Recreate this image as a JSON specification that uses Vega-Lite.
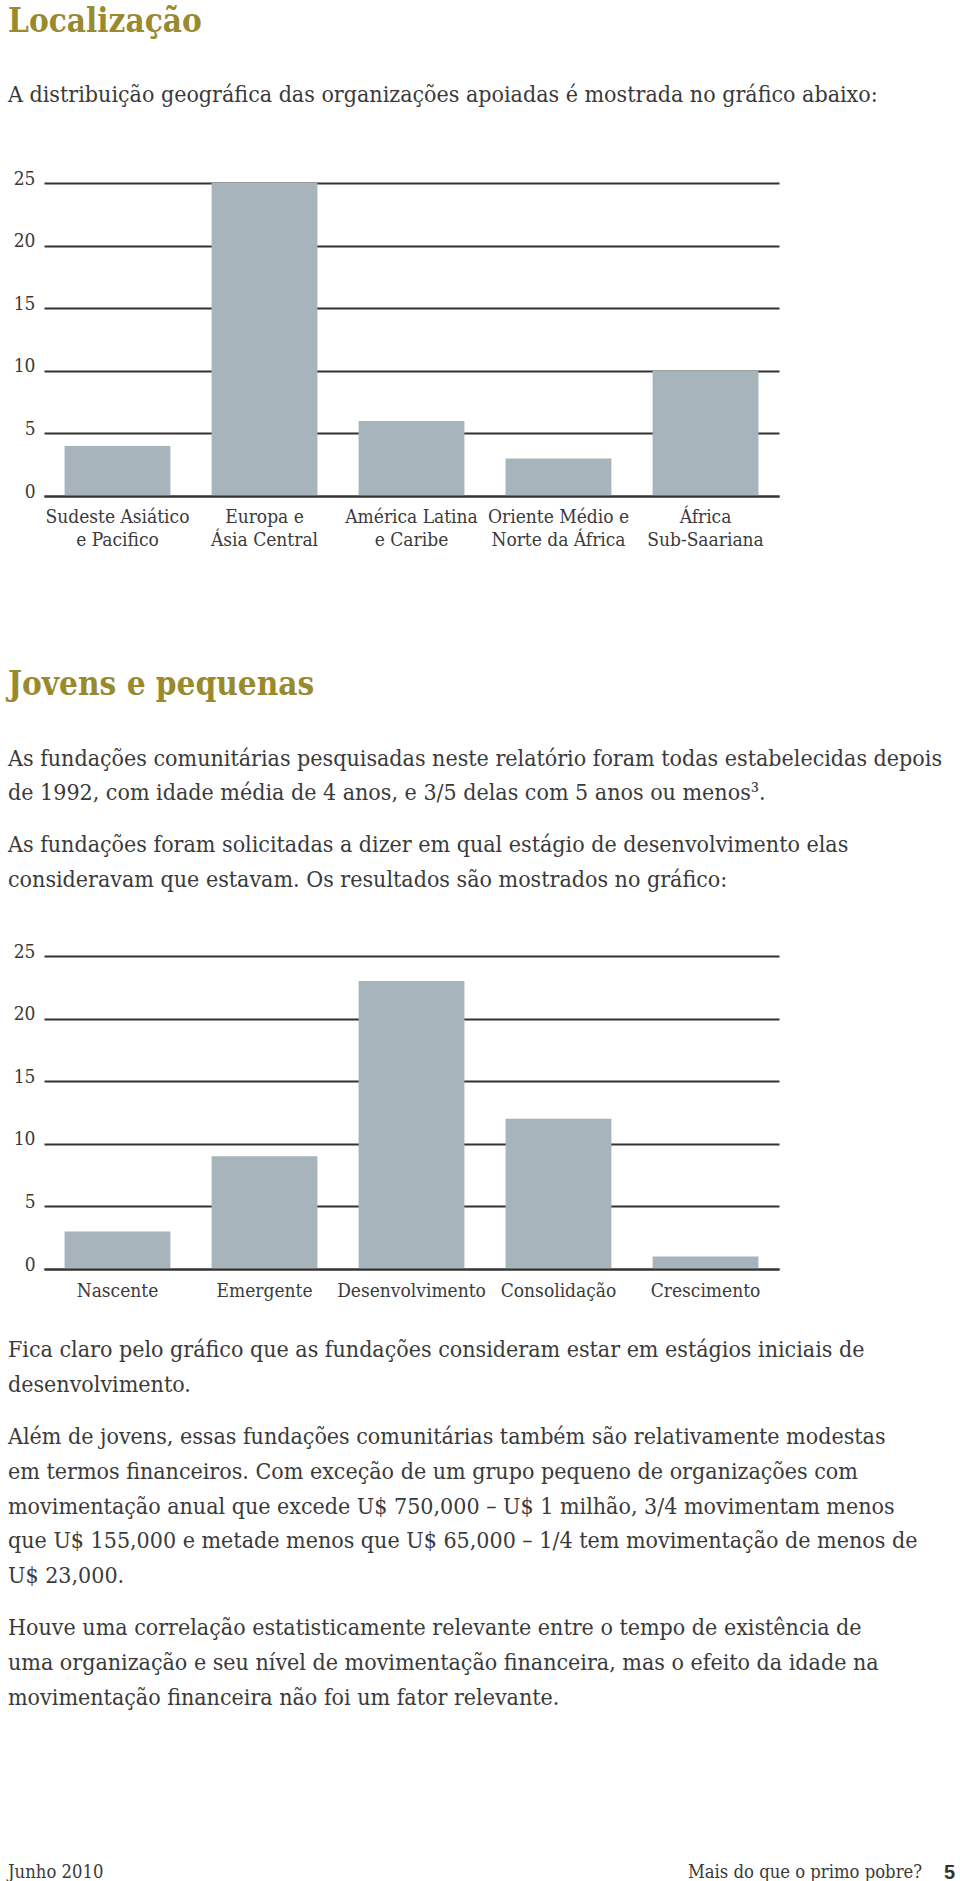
{
  "$schema": "https://vega.github.io/schema/vega-lite/v6.json",
  "background": "white",
  "padding": {"left": 8, "top": 5, "right": 4, "bottom": 5},
  "config": {
    "view": {"stroke": null},
    "font": "DejaVu Serif Condensed",
    "axis": {
      "labelFont": "DejaVu Serif Condensed",
      "labelFontSize": 19,
      "labelColor": "#3a3a3a",
      "title": null
    }
  },
  "spacing": 39,
  "vconcat": [
    {
      "spacing": 119,
      "vconcat": [
        {
          "title": {
            "text": "Localização",
            "subtitle": "A distribuição geográfica das organizações apoiadas é mostrada no gráfico abaixo:",
            "anchor": "start",
            "frame": "group",
            "dx": -36,
            "offset": 62.5,
            "font": "DejaVu Serif Condensed",
            "fontSize": 33,
            "fontWeight": "bold",
            "color": "#998a2e",
            "subtitleFont": "DejaVu Serif Condensed",
            "subtitleFontSize": 23,
            "subtitleColor": "#3a3a3a",
            "subtitlePadding": 45
          },
          "width": 735,
          "height": 313,
          "data": {
            "values": [
              {"region": "Sudeste Asiático\ne Pacifico", "count": 4},
              {"region": "Europa e\nÁsia Central", "count": 25},
              {"region": "América Latina\ne Caribe", "count": 6},
              {"region": "Oriente Médio e\nNorte da África", "count": 3},
              {"region": "África\nSub-Saariana", "count": 10}
            ]
          },
          "mark": {"type": "bar", "color": "#a8b4bc"},
          "encoding": {
            "x": {
              "field": "region",
              "type": "nominal",
              "sort": null,
              "scale": {"paddingInner": 0.28, "paddingOuter": 0.14},
              "axis": {
                "domain": true,
                "domainColor": "#333333",
                "domainWidth": 2,
                "ticks": false,
                "grid": false,
                "labelAngle": 0,
                "labelPadding": 11,
                "labelLineHeight": 23,
                "labelOverlap": false,
                "labelExpr": "split(datum.label, '\\n')",
                "zindex": 1
              }
            },
            "y": {
              "field": "count",
              "type": "quantitative",
              "scale": {"domain": [0, 25]},
              "axis": {
                "values": [0, 5, 10, 15, 20, 25],
                "domain": false,
                "ticks": false,
                "grid": true,
                "gridColor": "#333333",
                "gridWidth": 2,
                "gridOpacity": 1,
                "labelPadding": 9,
                "labelOffset": -5,
                "zindex": 0
              }
            }
          }
        },
        {
          "title": {
            "text": "Jovens e pequenas",
            "subtitle": [
              "As fundações comunitárias pesquisadas neste relatório foram todas estabelecidas depois",
              "\u200b",
              "de 1992, com idade média de 4 anos, e 3/5 delas com 5 anos ou menos³.",
              "\u200b",
              "\u200b",
              "As fundações foram solicitadas a dizer em qual estágio de desenvolvimento elas",
              "\u200b",
              "consideravam que estavam. Os resultados são mostrados no gráfico:"
            ],
            "anchor": "start",
            "frame": "group",
            "dx": -36,
            "offset": 50,
            "font": "DejaVu Serif Condensed",
            "fontSize": 33,
            "fontWeight": "bold",
            "color": "#998a2e",
            "subtitleFont": "DejaVu Serif Condensed",
            "subtitleFontSize": 23,
            "subtitleColor": "#3a3a3a",
            "subtitleLineHeight": 17.3,
            "subtitlePadding": 46
          },
          "width": 735,
          "height": 313,
          "data": {
            "values": [
              {"stage": "Nascente", "count": 3},
              {"stage": "Emergente", "count": 9},
              {"stage": "Desenvolvimento", "count": 23},
              {"stage": "Consolidação", "count": 12},
              {"stage": "Crescimento", "count": 1}
            ]
          },
          "mark": {"type": "bar", "color": "#a8b4bc"},
          "encoding": {
            "x": {
              "field": "stage",
              "type": "nominal",
              "sort": null,
              "scale": {"paddingInner": 0.28, "paddingOuter": 0.14},
              "axis": {
                "domain": true,
                "domainColor": "#333333",
                "domainWidth": 2,
                "ticks": false,
                "grid": false,
                "labelAngle": 0,
                "labelPadding": 12,
                "labelOverlap": false,
                "zindex": 1
              }
            },
            "y": {
              "field": "count",
              "type": "quantitative",
              "scale": {"domain": [0, 25]},
              "axis": {
                "values": [0, 5, 10, 15, 20, 25],
                "domain": false,
                "ticks": false,
                "grid": true,
                "gridColor": "#333333",
                "gridWidth": 2,
                "gridOpacity": 1,
                "labelPadding": 9,
                "labelOffset": -5,
                "zindex": 0
              }
            }
          }
        }
      ]
    },
    {
      "title": {
        "text": [
          "Fica claro pelo gráfico que as fundações consideram estar em estágios iniciais de",
          "\u200b",
          "desenvolvimento.",
          "\u200b",
          "\u200b",
          "Além de jovens, essas fundações comunitárias também são relativamente modestas",
          "\u200b",
          "em termos financeiros. Com exceção de um grupo pequeno de organizações com",
          "\u200b",
          "movimentação anual que excede U$ 750,000 – U$ 1 milhão, 3/4 movimentam menos",
          "\u200b",
          "que U$ 155,000 e metade menos que U$ 65,000 – 1/4 tem movimentação de menos de",
          "\u200b",
          "U$ 23,000.",
          "\u200b",
          "\u200b",
          "Houve uma correlação estatisticamente relevante entre o tempo de existência de",
          "\u200b",
          "uma organização e seu nível de movimentação financeira, mas o efeito da idade na",
          "\u200b",
          "movimentação financeira não foi um fator relevante."
        ],
        "anchor": "start",
        "frame": "group",
        "dx": -36,
        "offset": 153,
        "font": "DejaVu Serif Condensed",
        "fontSize": 23,
        "fontWeight": "normal",
        "color": "#3a3a3a",
        "lineHeight": 17.4
      },
      "width": 911,
      "height": 8,
      "data": {
        "values": [
          {"label": "Junho 2010", "part": "date"},
          {"label": "Mais do que o primo pobre?", "part": "publication"},
          {"label": "5", "part": "page"}
        ]
      },
      "layer": [
        {
          "transform": [{"filter": "datum.part === 'date'"}],
          "mark": {"type": "text", "align": "left", "fontSize": 18.3, "color": "#3a3a3a", "font": "DejaVu Serif Condensed"},
          "encoding": {
            "x": {"datum": 0, "type": "quantitative", "scale": {"domain": [0.038, 1]}, "axis": null},
            "text": {"field": "label"}
          }
        },
        {
          "transform": [{"filter": "datum.part === 'publication'"}],
          "mark": {"type": "text", "align": "right", "fontSize": 18.3, "color": "#3a3a3a", "font": "DejaVu Serif Condensed"},
          "encoding": {
            "x": {"datum": 0.9652, "type": "quantitative", "scale": {"domain": [0.038, 1]}, "axis": null},
            "text": {"field": "label"}
          }
        },
        {
          "transform": [{"filter": "datum.part === 'page'"}],
          "mark": {"type": "text", "align": "right", "fontSize": 20, "fontWeight": "bold", "color": "#333333", "font": "Liberation Sans"},
          "encoding": {
            "x": {"datum": 1, "type": "quantitative", "scale": {"domain": [0.038, 1]}, "axis": null},
            "text": {"field": "label"}
          }
        }
      ]
    }
  ]
}
